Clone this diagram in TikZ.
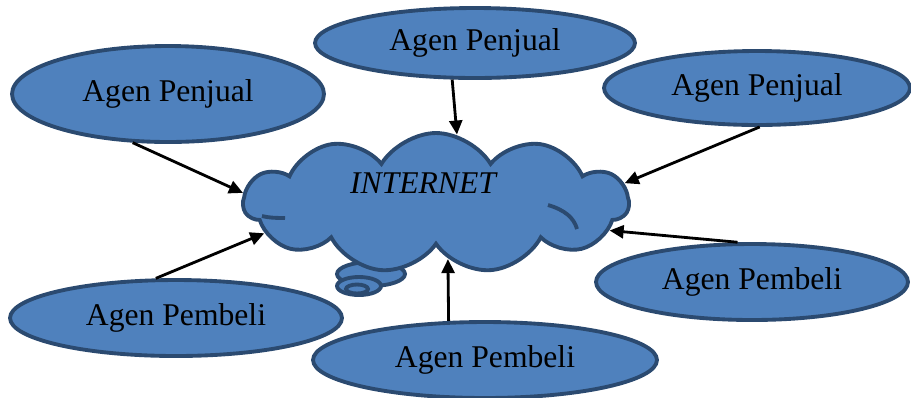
\documentclass[tikz,border=0pt]{standalone}
\usepackage{fontspec}
\setmainfont{Liberation Serif}
\usetikzlibrary{shapes.geometric,shapes.symbols,arrows.meta}
\definecolor{agenfill}{HTML}{4F81BD}
\definecolor{agenline}{HTML}{2B4A70}
\begin{document}
\begin{tikzpicture}[x=0.02cm,y=-0.02cm,
  agen/.style={ellipse,draw=agenline,fill=agenfill,line width=2.2pt,inner sep=0pt,
    font=\fontsize{18}{20}\selectfont},
  panah/.style={line width=1.6pt,-{Triangle[length=0.28cm,width=0.26cm]}}]
\useasboundingbox (0,0) rectangle (911,397);

% tail of the cloud
\draw[agenline,fill=agenfill,line width=2.2pt] (371,274) ellipse (34 and 12);
\draw[agenline,fill=agenfill,line width=2.2pt] (359,286) ellipse (22 and 9);
\draw[agenline,fill=agenfill,line width=2.2pt] (357,289) ellipse (11 and 4.5);

\node[cloud,cloud puffs=11,cloud puff arc=118,cloud ignores aspect,
  draw=agenline,fill=agenfill,line width=2.2pt,inner sep=0pt,
  minimum width=7.7cm,minimum height=2.8cm] (inet) at (436,203) {};
\node[font=\fontsize{18}{20}\selectfont\itshape] (label) at (423,183) {INTERNET};

% inner arcs
\draw[agenline,line width=2.2pt] (548,205) .. controls (565,210) and (574,218) .. (577,229);
\draw[agenline,line width=2.2pt] (262,216) .. controls (270,218) and (278,218) .. (285,218);

\node[agen,minimum width=6.24cm,minimum height=1.92cm] (jual1) at (168,94) {Agen Penjual};
\node[agen,minimum width=6.4cm,minimum height=1.4cm] (jual2) at (475,43) {Agen Penjual};
\node[agen,minimum width=6.12cm,minimum height=1.48cm] (jual3) at (757,88) {Agen Penjual};
\node[agen,minimum width=6.24cm,minimum height=1.52cm] (beli1) at (752,282) {Agen Pembeli};
\node[agen,minimum width=6.88cm,minimum height=1.52cm] (beli2) at (485,360) {Agen Pembeli};
\node[agen,minimum width=6.64cm,minimum height=1.52cm] (beli3) at (176,318) {Agen Pembeli};

\draw[panah] (jual1.234) -- (inet.177);
\draw[panah] (jual2.238) -- (inet.73);
\draw[panah] (jual3.274) -- (inet.6);
\draw[panah] (beli1.110) -- (inet.351);
\draw[panah] (beli2.133) -- (inet.282);
\draw[panah] (beli3.117) -- (inet.190);
\end{tikzpicture}
\end{document}
